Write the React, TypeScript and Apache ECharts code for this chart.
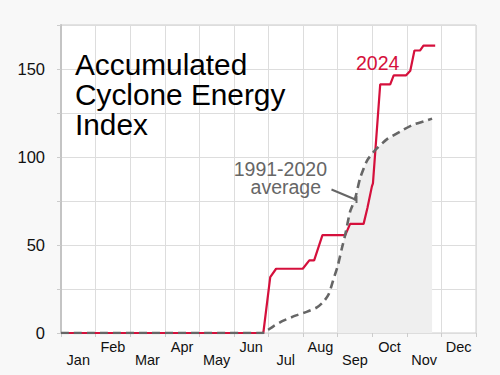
import React, { useEffect, useRef } from "react";
import * as echarts from "echarts";

// x positions are in months from Jan 1 (0 = Jan 1, 12 = Dec 31)
const months = ["Jan", "Feb", "Mar", "Apr", "May", "Jun", "Jul", "Aug", "Sep", "Oct", "Nov", "Dec"];
const yTicks = [0, 50, 100, 150];

const avgPos = [0, 5.82, 5.9, 6.14, 6.43, 6.8, 7.1, 7.4, 7.6, 7.74, 7.87, 8.0, 8.12, 8.22, 8.36, 8.5, 8.65, 8.85, 9.09, 9.42, 9.81, 10.19, 10.5, 10.73];
const avgValues = [0, 0, 0.6, 3.8, 7, 10, 12, 14.5, 18, 22, 30, 38, 48, 56, 69, 76, 88, 98, 104, 110, 114.5, 118.4, 120.3, 121.8];

const acePos = [0, 5.85, 6.05, 6.22, 6.99, 7.18, 7.32, 7.56, 8.22, 8.36, 8.75, 8.86, 8.99, 9.02, 9.23, 9.52, 9.62, 9.98, 10.1, 10.22, 10.38, 10.48, 10.82];
const aceValues = [0, 0, 31.8, 36.5, 36.5, 41.3, 41.3, 55.6, 55.6, 62, 62, 71, 83.3, 85, 141.3, 141.3, 146.4, 146.4, 149, 160.5, 160.5, 163.3, 163.3];

const shadeFrom = 8;

const FONT = "'Liberation Sans', Arial, sans-serif";
const RED = "#d5103c";

export default function App() {
  const ref = useRef<HTMLDivElement>(null);
  useEffect(() => {
    const chart = echarts.init(ref.current!, null, { renderer: "svg" });
    const avgData = avgPos.map((x, i) => [x, avgValues[i]]);
    const aceData = acePos.map((x, i) => [x, aceValues[i]]);
    const shadeData = avgData.filter((p) => p[0] >= shadeFrom);
    chart.setOption({
      animation: false,
      backgroundColor: "#f8f8f8",
      textStyle: { fontFamily: FONT },
      grid: {
        left: 61,
        right: 24,
        top: 25,
        bottom: 42,
        show: true,
        backgroundColor: "#ffffff",
        borderColor: "#cccccc",
        borderWidth: 1,
      },
      xAxis: [
        {
          type: "value",
          min: 0,
          max: 12,
          interval: 1,
          axisLine: { show: false },
          axisTick: { show: true, length: 4, lineStyle: { color: "#cccccc" } },
          axisLabel: { show: false },
          splitLine: { show: true, lineStyle: { color: "#dddddd", width: 1 } },
        },
        {
          type: "category",
          data: months,
          position: "bottom",
          boundaryGap: true,
          axisLine: { show: false },
          axisTick: { show: false },
          splitLine: { show: false },
          axisLabel: {
            interval: 0,
            margin: 6,
            fontSize: 14.5,
            color: "#111111",
            fontFamily: FONT,
            formatter: (v: string, i: number) => (i % 2 === 0 ? `{lo|${v}}` : `{hi|${v}}`),
            rich: {
              lo: { fontSize: 14.5, fontFamily: FONT, color: "#111111", padding: [13, 0, 0, 0] },
              hi: { fontSize: 14.5, fontFamily: FONT, color: "#111111" },
            },
          },
        },
      ],
      yAxis: {
        type: "value",
        min: 0,
        max: 175,
        interval: 25,
        axisLine: { show: true, lineStyle: { color: "#c4c4c4", width: 2 } },
        axisTick: { show: true, length: 4, lineStyle: { color: "#cccccc" } },
        axisLabel: {
          margin: 16,
          fontSize: 16.5,
          color: "#111111",
          fontFamily: FONT,
          formatter: (v: number) => (yTicks.indexOf(v) >= 0 ? String(v) : ""),
        },
        splitLine: { show: true, lineStyle: { color: "#dddddd", width: 1 } },
      },
      series: [
        {
          type: "line",
          data: shadeData,
          showSymbol: false,
          lineStyle: { width: 0, opacity: 0 },
          areaStyle: { color: "#efefef", opacity: 1 },
          z: 1,
          silent: true,
        },
        {
          type: "line",
          data: aceData,
          showSymbol: false,
          lineStyle: { color: RED, width: 2.2 },
          z: 3,
        },
        {
          type: "line",
          data: avgData,
          showSymbol: false,
          smooth: 0.2,
          lineStyle: { color: "#666666", width: 2.6, type: [8, 5] },
          z: 4,
        },
      ],
      graphic: [
        {
          type: "text",
          left: 75,
          top: 49,
          style: {
            text: "Accumulated\nCyclone Energy\nIndex",
            font: `29.8px ${FONT}`,
            fill: "#000000",
            lineHeight: 30,
          },
          z: 10,
        },
        {
          type: "text",
          x: 356,
          y: 63,
          style: {
            text: "2024",
            font: `19.5px ${FONT}`,
            fill: RED,
            textAlign: "left",
            textVerticalAlign: "middle",
          },
          z: 10,
        },
        {
          type: "text",
          x: 327,
          y: 177.8,
          style: {
            text: "{a|1991-2020}\n{b|average}",
            textAlign: "right",
            textVerticalAlign: "middle",
            rich: {
              a: { font: `19.5px ${FONT}`, fontSize: 19.5, fontFamily: FONT, fill: "#666666", color: "#666666", lineHeight: 17.5, align: "right" },
              b: { font: `19.5px ${FONT}`, fontSize: 19.5, fontFamily: FONT, fill: "#666666", color: "#666666", lineHeight: 17.5, align: "right", padding: [0, 6, 0, 0] },
            },
          },
          z: 10,
        },
        {
          type: "line",
          shape: { x1: 331.5, y1: 189.5, x2: 356.5, y2: 200 },
          style: { stroke: "#666666", lineWidth: 2 },
          z: 10,
        },
        {
          type: "line",
          shape: { x1: 356.5, y1: 196, x2: 356.5, y2: 203 },
          style: { stroke: "#666666", lineWidth: 2 },
          z: 10,
        },
      ],
    });
    return () => chart.dispose();
  }, []);
  return <div ref={ref} style={{ position: "fixed", left: 0, top: 0, width: 500, height: 375 }} />;
}
